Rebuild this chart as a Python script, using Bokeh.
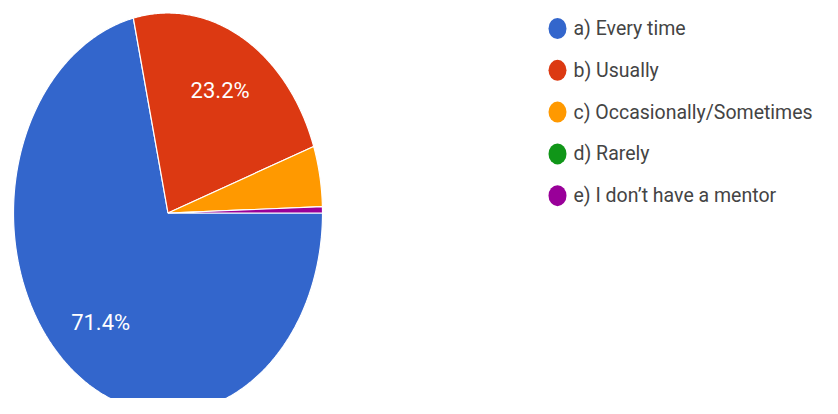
import numpy as np
from bokeh.plotting import figure
from bokeh.models import Range1d
from bokeh.core.properties import value
from bokeh.embed import file_html
from bokeh.resources import INLINE

# ---- data ----
categories = ["a) Every time", "b) Usually", "c) Occasionally/Sometimes",
              "d) Rarely", "e) I don\u2019t have a mentor"]
percents = [71.4, 23.2, 4.9, 0.0, 0.5]
colors = ["#3366CC", "#DC3912", "#FF9900", "#109618", "#990099"]
shown_labels = ["71.4%", "23.2%", "", "", ""]

# ---- layout (picture pixel coordinates) ----
W, H = 822, 398
CX, CY = 167.5, 212.5
RX, RY = 154.5, 200.0
LEG_X, LEG_Y0, LEG_DY = 557, 28, 41.8
LABEL_K = 0.7

p = figure(width=W, height=H, output_backend="svg", toolbar_location=None,
           x_range=Range1d(0, W), y_range=Range1d(H, 0),
           min_border=0, outline_line_color=None)
p.axis.visible = False
p.grid.visible = False
p.background_fill_color = "white"
p.border_fill_color = "white"

fr = np.array(percents) / 100.0
ends = np.cumsum(fr)
starts = ends - fr
xs, ys, cols = [], [], []
lx, ly, lt = [], [], []
for s, e, c, lab in zip(starts, ends, colors, shown_labels):
    if e - s <= 0:
        continue
    n = max(int((e - s) * 720), 3)
    # start at 3 o'clock, going clockwise
    a = -2 * np.pi * np.linspace(s, e, n)
    px = np.concatenate([[CX], CX + RX * np.cos(a)])
    py = np.concatenate([[CY], CY - RY * np.sin(a)])
    xs.append(list(px))
    ys.append(list(py))
    cols.append(c)
    if lab:
        m = -2 * np.pi * (s + e) / 2
        lx.append(CX + LABEL_K * RX * np.cos(m))
        ly.append(CY - LABEL_K * RY * np.sin(m))
        lt.append(lab)

p.patches(xs=xs, ys=ys, fill_color=cols, line_color="white", line_width=1.2)
p.text(x=lx, y=ly, text=lt, text_color="white", text_align="center",
       text_baseline="middle", text_font=value("Roboto"), text_font_size="22px")

# legend
leg_y = [LEG_Y0 + i * LEG_DY for i in range(len(categories))]
p.ellipse(x=[LEG_X] * len(categories), y=leg_y, width=18, height=21,
          fill_color=colors, line_color=None)
p.text(x=[LEG_X + 16] * len(categories), y=leg_y, text=categories,
       text_color="#444444", text_align="left", text_baseline="middle",
       text_font=value("Roboto"), text_font_size="19.5px")

open("out.html", "w").write(file_html(p, INLINE))
